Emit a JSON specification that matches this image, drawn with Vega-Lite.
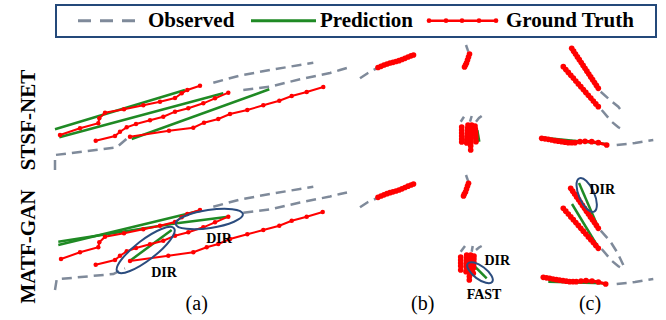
{
  "$schema": "https://vega.github.io/schema/vega-lite/v6.json",
  "width": 666, "height": 320, "padding": 0,
  "autosize": {"type": "fit", "contains": "padding"},
  "background": "white",
  "config": {"view": {"stroke": null}},
  "datasets": {
    "obs": [
      {"g":"O1t","i":0,"x":55,"y":170},{"g":"O1t","i":1,"x":55,"y":155},{"g":"O1t","i":2,"x":116.7,"y":147.3},{"g":"O1t","i":3,"x":128.3,"y":137.3},
      {"g":"O2t","i":0,"x":213.3,"y":82.7},{"g":"O2t","i":1,"x":240,"y":75.5},{"g":"O2t","i":2,"x":270,"y":70},{"g":"O2t","i":3,"x":313.3,"y":62.7},
      {"g":"O3t","i":0,"x":243.3,"y":90},{"g":"O3t","i":1,"x":270,"y":86.7},{"g":"O3t","i":2,"x":300,"y":79.3},{"g":"O3t","i":3,"x":330,"y":73},{"g":"O3t","i":4,"x":340,"y":70},{"g":"O3t","i":5,"x":347,"y":68},
      {"g":"Obt","i":0,"x":360,"y":78.3},{"g":"Obt","i":1,"x":368,"y":73},{"g":"Obt","i":2,"x":376.7,"y":68.3},
      {"g":"Ob2t","i":0,"x":466,"y":45},{"g":"Ob2t","i":1,"x":468.3,"y":51.7},
      {"g":"Ob3t","i":0,"x":460.7,"y":121.7},{"g":"Ob3t","i":1,"x":464,"y":116.7},
      {"g":"Ob4t","i":0,"x":470,"y":121.7},{"g":"Ob4t","i":1,"x":471.7,"y":116},
      {"g":"Ob5t","i":0,"x":476,"y":121.7},{"g":"Ob5t","i":1,"x":479,"y":118},{"g":"Ob5t","i":2,"x":481.7,"y":116},
      {"g":"Oc1t","i":0,"x":600.7,"y":91.7},{"g":"Oc1t","i":1,"x":610,"y":100},{"g":"Oc1t","i":2,"x":618.3,"y":106.7},{"g":"Oc1t","i":3,"x":623.3,"y":113.3},
      {"g":"Oc2t","i":0,"x":601.7,"y":110},{"g":"Oc2t","i":1,"x":611.7,"y":121.7},{"g":"Oc2t","i":2,"x":618.3,"y":127.3},{"g":"Oc2t","i":3,"x":625,"y":130.7},
      {"g":"Oc3t","i":0,"x":616.7,"y":145},{"g":"Oc3t","i":1,"x":635,"y":143},{"g":"Oc3t","i":2,"x":653.3,"y":140},
      {"g":"O1b","i":0,"x":55,"y":290},{"g":"O1b","i":1,"x":56.7,"y":279.3},{"g":"O1b","i":2,"x":113.3,"y":274},{"g":"O1b","i":3,"x":125,"y":268.3},
      {"g":"O2b","i":0,"x":213.3,"y":206.7},{"g":"O2b","i":1,"x":240,"y":199.5},{"g":"O2b","i":2,"x":270,"y":194},{"g":"O2b","i":3,"x":313.3,"y":186.7},
      {"g":"O3b","i":0,"x":243.3,"y":212.7},{"g":"O3b","i":1,"x":270,"y":209.5},{"g":"O3b","i":2,"x":300,"y":202.5},{"g":"O3b","i":3,"x":330,"y":196.5},{"g":"O3b","i":4,"x":340,"y":194},{"g":"O3b","i":5,"x":347,"y":192.5},
      {"g":"Obb","i":0,"x":360,"y":207.3},{"g":"Obb","i":1,"x":368,"y":202},{"g":"Obb","i":2,"x":376.7,"y":198.3},
      {"g":"Ob2b","i":0,"x":466,"y":175},{"g":"Ob2b","i":1,"x":468.3,"y":181.7},
      {"g":"Ob3b","i":0,"x":460.7,"y":251.7},{"g":"Ob3b","i":1,"x":465,"y":246},
      {"g":"Ob4b","i":0,"x":471.7,"y":251.7},{"g":"Ob4b","i":1,"x":472.7,"y":246},
      {"g":"Ob5b","i":0,"x":476,"y":250},{"g":"Ob5b","i":1,"x":479,"y":247.5},{"g":"Ob5b","i":2,"x":481.7,"y":246},
      {"g":"Oc1b","i":0,"x":600.7,"y":230.7},{"g":"Oc1b","i":1,"x":610,"y":241},{"g":"Oc1b","i":2,"x":617,"y":252},{"g":"Oc1b","i":3,"x":623.3,"y":265},
      {"g":"Oc2b","i":0,"x":601.7,"y":249},{"g":"Oc2b","i":1,"x":611.7,"y":260.7},{"g":"Oc2b","i":2,"x":618.3,"y":266.3},{"g":"Oc2b","i":3,"x":625,"y":269.7},
      {"g":"Oc3b","i":0,"x":616.7,"y":284},{"g":"Oc3b","i":1,"x":635,"y":282},{"g":"Oc3b","i":2,"x":653.3,"y":279}
    ],
    "pred": [
      {"g":"G1t","i":0,"x":55,"y":129.3},{"g":"G1t","i":1,"x":185,"y":90},
      {"g":"G2t","i":0,"x":59.3,"y":137.3},{"g":"G2t","i":1,"x":223.3,"y":93.3},
      {"g":"G3t","i":0,"x":131.7,"y":139},{"g":"G3t","i":1,"x":269.3,"y":89.3},
      {"g":"Gbt","i":0,"x":378,"y":68},{"g":"Gbt","i":1,"x":413,"y":55.5},
      {"g":"Gb2t","i":0,"x":464,"y":67},{"g":"Gb2t","i":1,"x":469,"y":54},
      {"g":"Gb3t","i":0,"x":477.3,"y":130},{"g":"Gb3t","i":1,"x":479.3,"y":141.7},
      {"g":"Gc1t","i":0,"x":572,"y":49},{"g":"Gc1t","i":1,"x":598,"y":88},
      {"g":"Gc2t","i":0,"x":563,"y":67},{"g":"Gc2t","i":1,"x":598,"y":107},
      {"g":"Gc3t","i":0,"x":541,"y":137.5},{"g":"Gc3t","i":1,"x":606,"y":144},
      {"g":"G1b","i":0,"x":58.3,"y":245},{"g":"G1b","i":1,"x":200,"y":210.7},
      {"g":"G2b","i":0,"x":58.3,"y":241.7},{"g":"G2b","i":1,"x":176.7,"y":223.3},{"g":"G2b","i":2,"x":228.3,"y":216.7},
      {"g":"G3b","i":0,"x":130,"y":260.7},{"g":"G3b","i":1,"x":171.7,"y":230},
      {"g":"Gbb","i":0,"x":378,"y":197.5},{"g":"Gbb","i":1,"x":413,"y":184.5},
      {"g":"Gb2b","i":0,"x":463.5,"y":197},{"g":"Gb2b","i":1,"x":468.5,"y":183.5},
      {"g":"Gb3b","i":0,"x":473.3,"y":265},{"g":"Gb3b","i":1,"x":486.7,"y":278.3},
      {"g":"Gc1b","i":0,"x":579,"y":183},{"g":"Gc1b","i":1,"x":598,"y":227},
      {"g":"Gc2b","i":0,"x":572,"y":204},{"g":"Gc2b","i":1,"x":598,"y":247},
      {"g":"Gc3b","i":0,"x":548.3,"y":281.7},{"g":"Gc3b","i":1,"x":603.3,"y":283.3}
    ],
    "gtA": [
      {"g":"R1t","i":0,"x":60,"y":135},{"g":"R1t","i":1,"x":80,"y":128.3},{"g":"R1t","i":2,"x":98.3,"y":123.3},{"g":"R1t","i":3,"x":99.3,"y":118.3},{"g":"R1t","i":4,"x":105,"y":112.7},{"g":"R1t","i":5,"x":124,"y":109.3},{"g":"R1t","i":6,"x":143.3,"y":105.3},{"g":"R1t","i":7,"x":160,"y":101.7},{"g":"R1t","i":8,"x":175,"y":98},{"g":"R1t","i":9,"x":181.7,"y":93.3},{"g":"R1t","i":10,"x":187.3,"y":90},{"g":"R1t","i":11,"x":200,"y":85.7},
      {"g":"R2t","i":0,"x":95.7,"y":140.7},{"g":"R2t","i":1,"x":115,"y":136},{"g":"R2t","i":2,"x":120,"y":131.7},{"g":"R2t","i":3,"x":126.7,"y":127.3},{"g":"R2t","i":4,"x":136,"y":124},{"g":"R2t","i":5,"x":150,"y":120.3},{"g":"R2t","i":6,"x":163.3,"y":116.7},{"g":"R2t","i":7,"x":175,"y":111.7},{"g":"R2t","i":8,"x":188.3,"y":108.3},{"g":"R2t","i":9,"x":203.3,"y":103.3},{"g":"R2t","i":10,"x":215,"y":98.3},{"g":"R2t","i":11,"x":228.3,"y":92.7},
      {"g":"R3t","i":0,"x":130,"y":136.7},{"g":"R3t","i":1,"x":169,"y":130.7},{"g":"R3t","i":2,"x":193.3,"y":127.7},{"g":"R3t","i":3,"x":204,"y":122.7},{"g":"R3t","i":4,"x":218.3,"y":119},{"g":"R3t","i":5,"x":230,"y":114},{"g":"R3t","i":6,"x":247.3,"y":110},{"g":"R3t","i":7,"x":263.3,"y":105.3},{"g":"R3t","i":8,"x":279.3,"y":100.7},{"g":"R3t","i":9,"x":291.7,"y":96},{"g":"R3t","i":10,"x":306.7,"y":92},{"g":"R3t","i":11,"x":323.3,"y":87},
      {"g":"R1b","i":0,"x":61,"y":259},{"g":"R1b","i":1,"x":80,"y":252.3},{"g":"R1b","i":2,"x":98.3,"y":247.3},{"g":"R1b","i":3,"x":99.3,"y":242.3},{"g":"R1b","i":4,"x":105,"y":236.7},{"g":"R1b","i":5,"x":124,"y":233.3},{"g":"R1b","i":6,"x":143.3,"y":229.3},{"g":"R1b","i":7,"x":160,"y":225.7},{"g":"R1b","i":8,"x":175,"y":222},{"g":"R1b","i":9,"x":181.7,"y":217.3},{"g":"R1b","i":10,"x":187.3,"y":214},{"g":"R1b","i":11,"x":200,"y":210},
      {"g":"R2b","i":0,"x":95.7,"y":264.7},{"g":"R2b","i":1,"x":115,"y":260},{"g":"R2b","i":2,"x":120,"y":255.7},{"g":"R2b","i":3,"x":126.7,"y":251.3},{"g":"R2b","i":4,"x":136,"y":248},{"g":"R2b","i":5,"x":150,"y":244.3},{"g":"R2b","i":6,"x":163.3,"y":240.7},{"g":"R2b","i":7,"x":175,"y":235.7},{"g":"R2b","i":8,"x":188.3,"y":232.3},{"g":"R2b","i":9,"x":203.3,"y":227.3},{"g":"R2b","i":10,"x":215,"y":222.3},{"g":"R2b","i":11,"x":228.3,"y":216.7},
      {"g":"R3b","i":0,"x":130,"y":261},{"g":"R3b","i":1,"x":168.3,"y":255.7},{"g":"R3b","i":2,"x":193.3,"y":252.3},{"g":"R3b","i":3,"x":206.7,"y":247.3},{"g":"R3b","i":4,"x":218.3,"y":244},{"g":"R3b","i":5,"x":230,"y":239},{"g":"R3b","i":6,"x":247.3,"y":234.3},{"g":"R3b","i":7,"x":263.3,"y":230},{"g":"R3b","i":8,"x":279.3,"y":225.7},{"g":"R3b","i":9,"x":291.7,"y":220.7},{"g":"R3b","i":10,"x":306.7,"y":216.7},{"g":"R3b","i":11,"x":322.7,"y":212}
    ],
    "gtBC": [
      {"g":"Rbt","i":0,"x":378,"y":67.5},{"g":"Rbt","i":1,"x":381,"y":66.3},{"g":"Rbt","i":2,"x":384,"y":65},{"g":"Rbt","i":3,"x":387,"y":64},{"g":"Rbt","i":4,"x":390,"y":63},{"g":"Rbt","i":5,"x":393,"y":62.3},{"g":"Rbt","i":6,"x":396,"y":61.5},{"g":"Rbt","i":7,"x":399,"y":60.7},{"g":"Rbt","i":8,"x":402,"y":59.5},{"g":"Rbt","i":9,"x":405,"y":58.3},{"g":"Rbt","i":10,"x":408,"y":57},{"g":"Rbt","i":11,"x":411,"y":55.8},{"g":"Rbt","i":12,"x":413.5,"y":55},
      {"g":"Rb2t","i":0,"x":469.5,"y":54},{"g":"Rb2t","i":1,"x":468.5,"y":57},{"g":"Rb2t","i":2,"x":467.5,"y":60},{"g":"Rb2t","i":3,"x":466.5,"y":63},{"g":"Rb2t","i":4,"x":465.5,"y":65},{"g":"Rb2t","i":5,"x":464.5,"y":67},
      {"g":"Ck1t","i":0,"x":461.7,"y":127},{"g":"Ck1t","i":1,"x":461.7,"y":130},{"g":"Ck1t","i":2,"x":461.7,"y":133},{"g":"Ck1t","i":3,"x":461.7,"y":136},{"g":"Ck1t","i":4,"x":461.7,"y":139},{"g":"Ck1t","i":5,"x":461.7,"y":142},
      {"g":"Ck2t","i":0,"x":468,"y":125},{"g":"Ck2t","i":1,"x":467.7,"y":128},{"g":"Ck2t","i":2,"x":467.5,"y":131},{"g":"Ck2t","i":3,"x":467.3,"y":134},{"g":"Ck2t","i":4,"x":467,"y":137},{"g":"Ck2t","i":5,"x":466.8,"y":140},{"g":"Ck2t","i":6,"x":466.7,"y":143},
      {"g":"Ck3t","i":0,"x":471.7,"y":125},{"g":"Ck3t","i":1,"x":471.5,"y":128},{"g":"Ck3t","i":2,"x":471.3,"y":131},{"g":"Ck3t","i":3,"x":471.2,"y":134},{"g":"Ck3t","i":4,"x":471,"y":137},{"g":"Ck3t","i":5,"x":471,"y":140},{"g":"Ck3t","i":6,"x":470.8,"y":143},{"g":"Ck3t","i":7,"x":470.7,"y":146},{"g":"Ck3t","i":8,"x":470.7,"y":150},
      {"g":"Ck4t","i":0,"x":475,"y":126},{"g":"Ck4t","i":1,"x":475.3,"y":129},{"g":"Ck4t","i":2,"x":475.5,"y":132},{"g":"Ck4t","i":3,"x":475.7,"y":135},{"g":"Ck4t","i":4,"x":475.8,"y":138},{"g":"Ck4t","i":5,"x":476,"y":141.7},
      {"g":"Rc1t","i":0,"x":571.7,"y":48.3},{"g":"Rc1t","i":1,"x":573.6,"y":51.2},{"g":"Rc1t","i":2,"x":575.5,"y":54},{"g":"Rc1t","i":3,"x":577.4,"y":56.9},{"g":"Rc1t","i":4,"x":579.3,"y":59.7},{"g":"Rc1t","i":5,"x":581.2,"y":62.6},{"g":"Rc1t","i":6,"x":583.1,"y":65.4},{"g":"Rc1t","i":7,"x":585,"y":68.3},{"g":"Rc1t","i":8,"x":586.9,"y":71.2},{"g":"Rc1t","i":9,"x":588.8,"y":74},{"g":"Rc1t","i":10,"x":590.7,"y":76.9},{"g":"Rc1t","i":11,"x":592.6,"y":79.7},{"g":"Rc1t","i":12,"x":594.5,"y":82.6},{"g":"Rc1t","i":13,"x":596.4,"y":85.4},{"g":"Rc1t","i":14,"x":598.3,"y":88.3},
      {"g":"Rc2t","i":0,"x":563.3,"y":66.7},{"g":"Rc2t","i":1,"x":565.8,"y":69.6},{"g":"Rc2t","i":2,"x":568.3,"y":72.4},{"g":"Rc2t","i":3,"x":570.8,"y":75.3},{"g":"Rc2t","i":4,"x":573.3,"y":78.1},{"g":"Rc2t","i":5,"x":575.8,"y":81},{"g":"Rc2t","i":6,"x":578.3,"y":83.9},{"g":"Rc2t","i":7,"x":580.8,"y":86.7},{"g":"Rc2t","i":8,"x":583.3,"y":89.6},{"g":"Rc2t","i":9,"x":585.8,"y":92.4},{"g":"Rc2t","i":10,"x":588.3,"y":95.3},{"g":"Rc2t","i":11,"x":590.8,"y":98.1},{"g":"Rc2t","i":12,"x":593.3,"y":101},{"g":"Rc2t","i":13,"x":595.8,"y":103.9},{"g":"Rc2t","i":14,"x":598.3,"y":106.7},
      {"g":"Rc3t","i":0,"x":541.7,"y":138.3},{"g":"Rc3t","i":1,"x":545,"y":138.8},{"g":"Rc3t","i":2,"x":548.3,"y":139.3},{"g":"Rc3t","i":3,"x":551.7,"y":140},{"g":"Rc3t","i":4,"x":555,"y":140.7},{"g":"Rc3t","i":5,"x":558.3,"y":141.2},{"g":"Rc3t","i":6,"x":561.7,"y":141.7},{"g":"Rc3t","i":7,"x":565,"y":142.2},{"g":"Rc3t","i":8,"x":568.3,"y":142.7},{"g":"Rc3t","i":9,"x":571.7,"y":142.7},{"g":"Rc3t","i":10,"x":575,"y":142.7},{"g":"Rc3t","i":11,"x":580,"y":141.7},{"g":"Rc3t","i":12,"x":585,"y":141.3},{"g":"Rc3t","i":13,"x":591.7,"y":141.7},{"g":"Rc3t","i":14,"x":598.3,"y":142.7},{"g":"Rc3t","i":15,"x":606.7,"y":145},
      {"g":"Rbb","i":0,"x":378,"y":197.3},{"g":"Rbb","i":1,"x":381,"y":196},{"g":"Rbb","i":2,"x":384,"y":194.8},{"g":"Rbb","i":3,"x":387,"y":193.7},{"g":"Rbb","i":4,"x":390,"y":192.7},{"g":"Rbb","i":5,"x":393,"y":191.8},{"g":"Rbb","i":6,"x":396,"y":191},{"g":"Rbb","i":7,"x":399,"y":190},{"g":"Rbb","i":8,"x":402,"y":188.8},{"g":"Rbb","i":9,"x":405,"y":187.5},{"g":"Rbb","i":10,"x":408,"y":186.2},{"g":"Rbb","i":11,"x":411,"y":185},{"g":"Rbb","i":12,"x":413.5,"y":184},
      {"g":"Rb2b","i":0,"x":468.5,"y":183.3},{"g":"Rb2b","i":1,"x":467.5,"y":186},{"g":"Rb2b","i":2,"x":466.5,"y":189},{"g":"Rb2b","i":3,"x":465.5,"y":192},{"g":"Rb2b","i":4,"x":464.3,"y":194},{"g":"Rb2b","i":5,"x":463.5,"y":196},
      {"g":"Ck1b","i":0,"x":460.7,"y":257},{"g":"Ck1b","i":1,"x":460.7,"y":260},{"g":"Ck1b","i":2,"x":460.7,"y":263},{"g":"Ck1b","i":3,"x":460.7,"y":266},{"g":"Ck1b","i":4,"x":460.7,"y":270},
      {"g":"Ck2b","i":0,"x":466.7,"y":255},{"g":"Ck2b","i":1,"x":466.6,"y":258},{"g":"Ck2b","i":2,"x":466.5,"y":261},{"g":"Ck2b","i":3,"x":466.3,"y":264},{"g":"Ck2b","i":4,"x":466.2,"y":267},{"g":"Ck2b","i":5,"x":466,"y":271.7},
      {"g":"Ck3b","i":0,"x":470.7,"y":255},{"g":"Ck3b","i":1,"x":470.5,"y":258},{"g":"Ck3b","i":2,"x":470.3,"y":261},{"g":"Ck3b","i":3,"x":470.1,"y":264},{"g":"Ck3b","i":4,"x":470,"y":267},{"g":"Ck3b","i":5,"x":469.8,"y":270},{"g":"Ck3b","i":6,"x":469.6,"y":273},{"g":"Ck3b","i":7,"x":469.4,"y":276.5},{"g":"Ck3b","i":8,"x":469.3,"y":280},
      {"g":"Ck4b","i":0,"x":474,"y":256},{"g":"Ck4b","i":1,"x":473.9,"y":259},{"g":"Ck4b","i":2,"x":473.8,"y":262},{"g":"Ck4b","i":3,"x":473.6,"y":265},{"g":"Ck4b","i":4,"x":473.5,"y":268},{"g":"Ck4b","i":5,"x":473.3,"y":273.3},
      {"g":"Rc1b","i":0,"x":570.7,"y":188.3},{"g":"Rc1b","i":1,"x":572.7,"y":191.2},{"g":"Rc1b","i":2,"x":574.6,"y":194},{"g":"Rc1b","i":3,"x":576.6,"y":196.9},{"g":"Rc1b","i":4,"x":578.6,"y":199.7},{"g":"Rc1b","i":5,"x":580.5,"y":202.6},{"g":"Rc1b","i":6,"x":582.5,"y":205.4},{"g":"Rc1b","i":7,"x":584.5,"y":208.3},{"g":"Rc1b","i":8,"x":586.4,"y":211.2},{"g":"Rc1b","i":9,"x":588.4,"y":214},{"g":"Rc1b","i":10,"x":590.4,"y":216.9},{"g":"Rc1b","i":11,"x":592.4,"y":219.7},{"g":"Rc1b","i":12,"x":594.4,"y":222.6},{"g":"Rc1b","i":13,"x":596.4,"y":225.4},{"g":"Rc1b","i":14,"x":598.3,"y":228.3},
      {"g":"Rc2b","i":0,"x":563.3,"y":208.3},{"g":"Rc2b","i":1,"x":565.8,"y":211.2},{"g":"Rc2b","i":2,"x":568.3,"y":214},{"g":"Rc2b","i":3,"x":570.8,"y":216.9},{"g":"Rc2b","i":4,"x":573.3,"y":219.7},{"g":"Rc2b","i":5,"x":575.8,"y":222.6},{"g":"Rc2b","i":6,"x":578.3,"y":225.4},{"g":"Rc2b","i":7,"x":580.8,"y":228.3},{"g":"Rc2b","i":8,"x":583.3,"y":231.2},{"g":"Rc2b","i":9,"x":585.8,"y":234},{"g":"Rc2b","i":10,"x":588.3,"y":236.9},{"g":"Rc2b","i":11,"x":590.8,"y":239.7},{"g":"Rc2b","i":12,"x":593.3,"y":242.6},{"g":"Rc2b","i":13,"x":595.8,"y":245.4},{"g":"Rc2b","i":14,"x":598.3,"y":248.3},
      {"g":"Rc3b","i":0,"x":543.3,"y":277.3},{"g":"Rc3b","i":1,"x":546.5,"y":277.8},{"g":"Rc3b","i":2,"x":549.7,"y":278.3},{"g":"Rc3b","i":3,"x":553,"y":279},{"g":"Rc3b","i":4,"x":556.3,"y":279.7},{"g":"Rc3b","i":5,"x":559.6,"y":280.2},{"g":"Rc3b","i":6,"x":563,"y":280.7},{"g":"Rc3b","i":7,"x":566.3,"y":281.2},{"g":"Rc3b","i":8,"x":569.6,"y":281.7},{"g":"Rc3b","i":9,"x":573,"y":281.7},{"g":"Rc3b","i":10,"x":576.3,"y":281.7},{"g":"Rc3b","i":11,"x":581,"y":281},{"g":"Rc3b","i":12,"x":586,"y":280.7},{"g":"Rc3b","i":13,"x":592,"y":281},{"g":"Rc3b","i":14,"x":598.3,"y":282},{"g":"Rc3b","i":15,"x":605.7,"y":284}
    ]
  },
  "encoding": {
    "x": {"field": "x", "type": "quantitative", "axis": null, "scale": {"domain": [0, 666], "nice": false, "zero": false}},
    "y": {"field": "y", "type": "quantitative", "axis": null, "scale": {"domain": [320, 0], "nice": false, "zero": false}}
  },
  "layer": [
    {"data": {"values": [{"x": 56, "y": 5, "x2": 656, "y2": 37}]},
     "mark": {"type": "rect", "fill": null, "stroke": "#24497a", "strokeWidth": 2},
     "encoding": {"x2": {"field": "x2"}, "y2": {"field": "y2"}}},
    {"data": {"values": [{"g": "L", "i": 0, "x": 78, "y": 20.7}, {"g": "L", "i": 1, "x": 140, "y": 20.7}]},
     "mark": {"type": "line", "stroke": "#7f8a9a", "strokeWidth": 3, "strokeDash": [13, 9]},
     "encoding": {"order": {"field": "i"}}},
    {"data": {"values": [{"g": "L", "i": 0, "x": 251, "y": 20.7}, {"g": "L", "i": 1, "x": 316, "y": 20.7}]},
     "mark": {"type": "line", "stroke": "#1f8a24", "strokeWidth": 3},
     "encoding": {"order": {"field": "i"}}},
    {"data": {"values": [{"g": "L", "i": 0, "x": 429, "y": 20.7}, {"g": "L", "i": 1, "x": 446, "y": 20.7}, {"g": "L", "i": 2, "x": 462, "y": 20.7}, {"g": "L", "i": 3, "x": 479, "y": 20.7}, {"g": "L", "i": 4, "x": 496, "y": 20.7}]},
     "layer": [
       {"mark": {"type": "line", "stroke": "#ff0000", "strokeWidth": 2.5}, "encoding": {"order": {"field": "i"}}},
       {"mark": {"type": "point", "filled": true, "color": "#ff0000", "size": 22, "opacity": 1}}
     ]},
    {"data": {"values": [{"t": "Observed", "x": 148, "y": 27}, {"t": "Prediction", "x": 320, "y": 27}, {"t": "Ground Truth", "x": 506, "y": 27}]},
     "mark": {"type": "text", "align": "left", "baseline": "alphabetic", "font": "Liberation Serif", "fontWeight": "bold", "fontSize": 21, "color": "#000000"},
     "encoding": {"text": {"field": "t"}}},
    {"data": {"values": [{"t": "STSF-NET", "x": 29, "y": 120}, {"t": "MATF-GAN", "x": 29, "y": 246.5}]},
     "mark": {"type": "text", "angle": 270, "align": "center", "baseline": "middle", "font": "Liberation Serif", "fontWeight": "bold", "fontSize": 21, "color": "#000000"},
     "encoding": {"text": {"field": "t"}}},
    {"data": {"values": [{"t": "(a)", "x": 196.7, "y": 304}, {"t": "(b)", "x": 422.7, "y": 304}, {"t": "(c)", "x": 590, "y": 304}]},
     "mark": {"type": "text", "align": "center", "baseline": "middle", "font": "Liberation Serif", "fontSize": 20, "color": "#000000"},
     "encoding": {"text": {"field": "t"}}},
    {"data": {"name": "obs"},
     "mark": {"type": "line", "stroke": "#7f8a9a", "strokeWidth": 2.5, "strokeDash": [10, 6]},
     "encoding": {"detail": {"field": "g"}, "order": {"field": "i"}}},
    {"data": {"name": "pred"},
     "mark": {"type": "line", "stroke": "#1f8a24", "strokeWidth": 2.5},
     "encoding": {"detail": {"field": "g"}, "order": {"field": "i"}}},
    {"data": {"name": "gtA"},
     "layer": [
       {"mark": {"type": "line", "stroke": "#ff0000", "strokeWidth": 2}, "encoding": {"detail": {"field": "g"}, "order": {"field": "i"}}},
       {"mark": {"type": "point", "filled": true, "color": "#ff0000", "size": 20, "opacity": 1}}
     ]},
    {"data": {"name": "gtBC"},
     "layer": [
       {"mark": {"type": "line", "stroke": "#ff0000", "strokeWidth": 3}, "encoding": {"detail": {"field": "g"}, "order": {"field": "i"}}},
       {"mark": {"type": "point", "filled": true, "color": "#ff0000", "size": 32, "opacity": 1}}
     ]},
    {"data": {"values": [{"x": 209.3, "y": 219}]},
     "mark": {"type": "point", "shape": "M-1,0A1,0.265,0,1,0,1,0A1,0.265,0,1,0,-1,0Z", "size": 4624, "angle": 351.5, "filled": false, "stroke": "#2b4c7e", "strokeWidth": 2, "opacity": 1}},
    {"data": {"values": [{"x": 145.7, "y": 250}]},
     "mark": {"type": "point", "shape": "M-1,0A1,0.28,0,1,0,1,0A1,0.28,0,1,0,-1,0Z", "size": 5100, "angle": 322.6, "filled": false, "stroke": "#2b4c7e", "strokeWidth": 2, "opacity": 1}},
    {"data": {"values": [{"x": 480, "y": 272.7}]},
     "mark": {"type": "point", "shape": "M-1,0A1,0.42,0,1,0,1,0A1,0.42,0,1,0,-1,0Z", "size": 936, "angle": 37, "filled": false, "stroke": "#2b4c7e", "strokeWidth": 2, "opacity": 1}},
    {"data": {"values": [{"x": 586.7, "y": 195}]},
     "mark": {"type": "point", "shape": "M-1,0A1,0.42,0,1,0,1,0A1,0.42,0,1,0,-1,0Z", "size": 1325, "angle": 66, "filled": false, "stroke": "#2b4c7e", "strokeWidth": 2, "opacity": 1}},
    {"data": {"values": [{"t": "DIR", "x": 219, "y": 238.5}, {"t": "DIR", "x": 164, "y": 273}, {"t": "DIR", "x": 497.3, "y": 260.5}, {"t": "FAST", "x": 484, "y": 295}, {"t": "DIR", "x": 602.3, "y": 190}]},
     "mark": {"type": "text", "align": "center", "baseline": "middle", "font": "Liberation Serif", "fontWeight": "bold", "fontSize": 14, "color": "#000000"},
     "encoding": {"text": {"field": "t"}}}
  ]
}
